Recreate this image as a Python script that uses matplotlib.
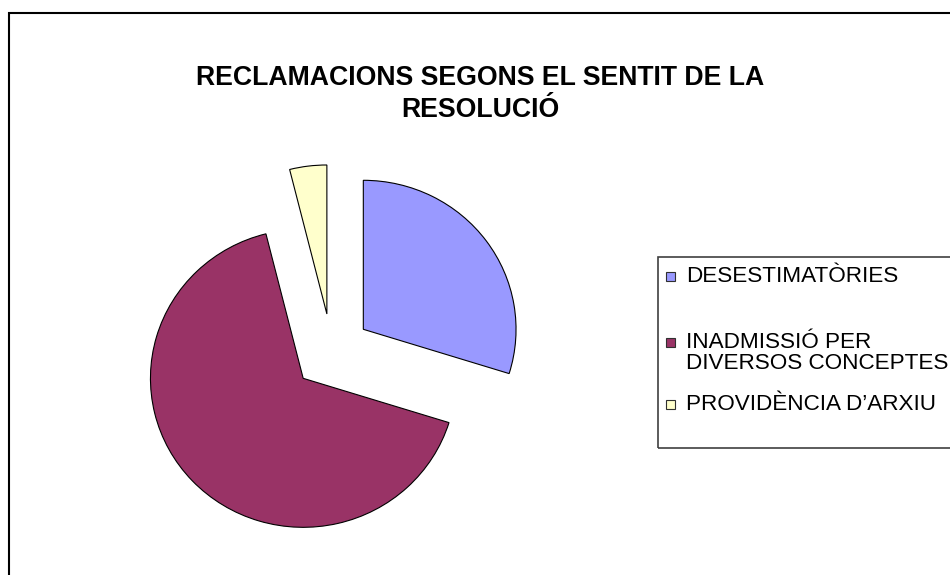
import matplotlib
matplotlib.use("Agg")
import matplotlib.pyplot as plt
from matplotlib.patches import Rectangle

plt.rcParams['font.family'] = ['Liberation Sans', 'DejaVu Sans']

# Data
categories = ["DESESTIMATÒRIES", "INADMISSIÓ PER\nDIVERSOS CONCEPTES", "PROVIDÈNCIA D’ARXIU"]
values = [76, 169, 10]
colors = ["#9999FF", "#993366", "#FFFFCC"]
title = "RECLAMACIONS SEGONS EL SENTIT DE LA\nRESOLUCIÓ"

W, H = 950, 575
fig = plt.figure(figsize=(W / 100, H / 100), dpi=100)
ax = fig.add_axes([0, 0, 1, 1])
ax.set_xlim(0, W)
ax.set_ylim(0, H)
ax.axis('off')

def py(y):
    return H - y

# outer frame
ax.add_patch(Rectangle((9, py(600)), 960, 600 - 13, fill=False,
                       edgecolor='black', linewidth=1.5))

# pie (slightly wider than tall, as in the reference)
sx = 1.025
pax = fig.add_axes([0, 0, 1, 1])
pax.pie(values, colors=colors, startangle=90, counterclock=False,
        center=(331.7 / sx, py(352.0)), radius=149,
        explode=[38.3] * len(values),
        wedgeprops=dict(edgecolor='black', linewidth=0.8),
        frame=True)
pax.set_aspect('auto')
pax.set_xlim(0, W / sx)
pax.set_ylim(0, H)
pax.axis('off')

# title
ax.text(480, py(94), title, ha='center', va='center', fontsize=19.2,
        fontweight='bold', linespacing=1.3, multialignment='center')

# legend
ax.add_patch(Rectangle((658, py(448)), 400, 448 - 257, fill=False,
                       edgecolor='#404040', linewidth=1.2))
entry_y = [276, 353, 404]
for lab, col, yy in zip(categories, colors, entry_y):
    my = yy if '\n' not in lab else 342
    ax.add_patch(Rectangle((666, py(my + 4.5)), 9, 9, facecolor=col,
                           edgecolor='#303030', linewidth=0.8))
    ax.text(686, py(yy), lab, ha='left', va='center', fontsize=16.2,
            linespacing=1.0)

fig.savefig("out.png", dpi=100)
